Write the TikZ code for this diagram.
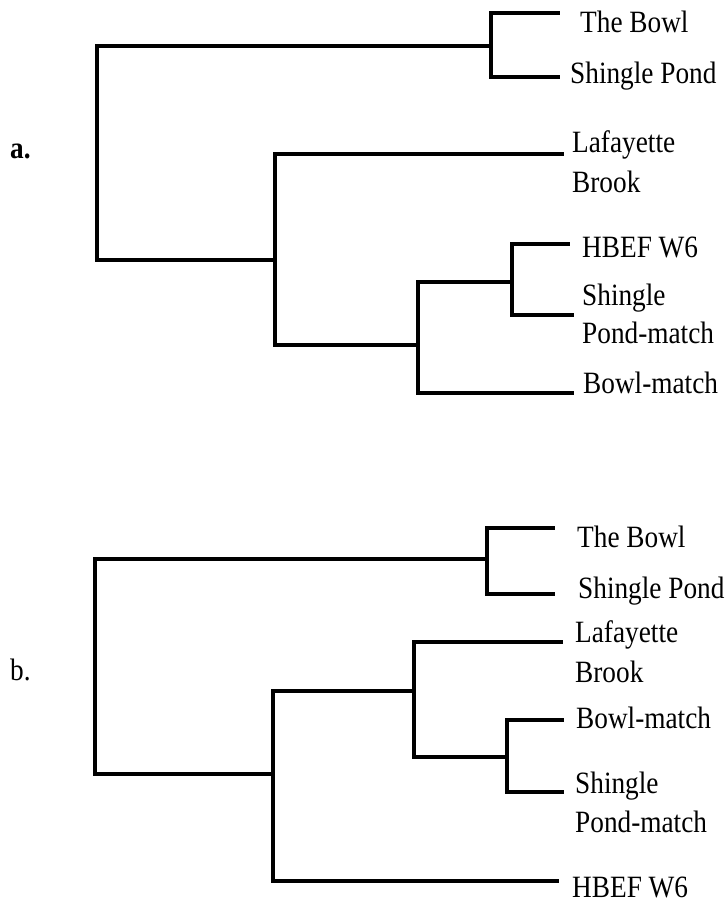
\documentclass[tikz,border=0pt]{standalone}
\usepackage{fontspec}
\setmainfont{Liberation Serif}[FakeStretch=0.88]
\begin{document}
\begin{tikzpicture}[x=1pt,y=-1pt,
  branch/.style={line width=4.8pt,line cap=rect,line join=miter,black},
  leaflabel/.style={anchor=base west,inner sep=0pt,font=\fontsize{31}{34}\selectfont},
  panellabel/.style={anchor=base west,inner sep=0pt,font=\fontsize{31}{34}\selectfont}]
\useasboundingbox (0,0) rectangle (724,906);
% ---------------- panel a ----------------
\node[panellabel,font=\fontsize{31}{34}\selectfont\bfseries] (alab) at (10,158) {a.};
\coordinate (ar1) at (97,46);
\coordinate (ar2) at (97,260);
\coordinate (a1) at (491,46);
\coordinate (a2) at (275,260);
\coordinate (a3) at (418,345);
\coordinate (a4) at (512,282);
\coordinate (aL1) at (558,13);
\coordinate (aL2) at (558,77);
\coordinate (aL3) at (562,154);
\coordinate (aL4) at (568,244);
\coordinate (aL5) at (572,315);
\coordinate (aL6) at (572,393);
\draw[branch] (a1) -- (ar1) -- (ar2) -- (a2);
\draw[branch] (aL1) -| (a1) |- (aL2);
\draw[branch] (aL3) -| (a2) |- (a3);
\draw[branch] (a4) -| (a3) |- (aL6);
\draw[branch] (aL4) -| (a4) |- (aL5);
\node[leaflabel] (atb) at (580,32) {The Bowl};
\node[leaflabel] (asp) at (570,83) {Shingle Pond};
\node[leaflabel] (alb1) at (572,152) {Lafayette};
\node[leaflabel] (alb2) at (572,192) {Brook};
\node[leaflabel] (ahb) at (582,257) {HBEF W6};
\node[leaflabel] (aspm1) at (582,305) {Shingle};
\node[leaflabel] (aspm2) at (582,343) {Pond-match};
\node[leaflabel] (abm) at (583,393) {Bowl-match};
% ---------------- panel b ----------------
\node[panellabel] (blab) at (10,680) {b.};
\coordinate (br1) at (95,559);
\coordinate (br2) at (95,774);
\coordinate (b1) at (487,559);
\coordinate (b2) at (273,774);
\coordinate (b3) at (414,691);
\coordinate (b4) at (507,757);
\coordinate (bL1) at (553,528);
\coordinate (bL2) at (553,594);
\coordinate (bL3) at (561,642);
\coordinate (bL4) at (562,720);
\coordinate (bL5) at (562,792);
\coordinate (bL6) at (557,881);
\draw[branch] (b1) -- (br1) -- (br2) -- (b2);
\draw[branch] (bL1) -| (b1) |- (bL2);
\draw[branch] (b3) -| (b2) |- (bL6);
\draw[branch] (bL3) -| (b3) |- (b4);
\draw[branch] (bL4) -| (b4) |- (bL5);
\node[leaflabel] (btb) at (577,547) {The Bowl};
\node[leaflabel] (bsp) at (578,598) {Shingle Pond};
\node[leaflabel] (blb1) at (575,642) {Lafayette};
\node[leaflabel] (blb2) at (575,682) {Brook};
\node[leaflabel] (bbm) at (576,728) {Bowl-match};
\node[leaflabel] (bspm1) at (575,793) {Shingle};
\node[leaflabel] (bspm2) at (575,832) {Pond-match};
\node[leaflabel] (bhb) at (572,897) {HBEF W6};
\end{tikzpicture}
\end{document}
